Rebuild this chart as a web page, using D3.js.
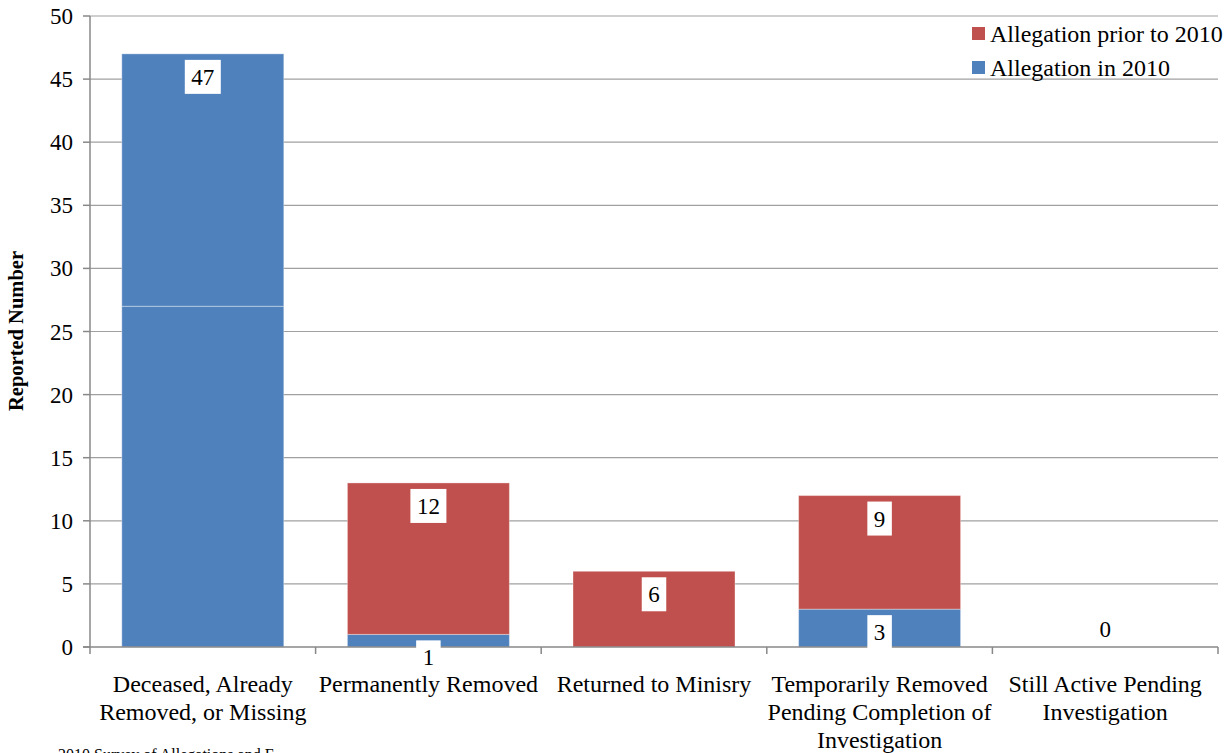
<!DOCTYPE html>
<html><head><meta charset="utf-8">
<script src="https://cdn.jsdelivr.net/npm/d3@7/dist/d3.min.js"></script>
<style>body{margin:0;background:#fff}svg{display:block}</style>
</head><body><svg id="c" width="1228" height="753"></svg>
<script>
const categories = [["Deceased, Already","Removed, or Missing"],["Permanently Removed"],["Returned to Minisry"],["Temporarily Removed","Pending Completion of","Investigation"],["Still Active Pending","Investigation"]];
const in2010 = [27, 1, 0, 3, 0];
const prior = [20, 12, 6, 9, 0];
const priorLabels = ["47", "12", "6", "9", ""];
const in2010Labels = ["", "1", "", "3", "0"];
const seriesNames = ["Allegation prior to 2010", "Allegation in 2010"];
const yTicks = [0,5,10,15,20,25,30,35,40,45,50];

const FONT = '"Liberation Serif", "Times New Roman", serif';
const blue = "#4F81BD", red = "#C0504D";
const svg = d3.select("#c");
const m = {l:90, r:1218, t:16, b:647};
const x = d3.scaleBand().domain(d3.range(categories.length)).range([m.l, m.r]).paddingInner(0.282).paddingOuter(0.141);
const y = d3.scaleLinear().domain([0,50]).range([m.b, m.t]);

// gridlines
svg.append("g").selectAll("line").data(yTicks.filter(d=>d>0)).join("line")
  .attr("x1", m.l).attr("x2", m.r).attr("y1", d=>y(d)).attr("y2", d=>y(d))
  .attr("stroke", "#a0a0a0").attr("stroke-width", 1.2);

// bars
const g = svg.append("g");
categories.forEach((c,i)=>{
  const bx = x(i), bw = x.bandwidth();
  if (in2010[i] > 0) g.append("rect").attr("x", bx).attr("width", bw)
    .attr("y", y(in2010[i])).attr("height", y(0)-y(in2010[i]))
    .attr("fill", blue).attr("stroke","rgba(255,255,255,0.35)").attr("stroke-width",1);
  if (prior[i] > 0) g.append("rect").attr("x", bx).attr("width", bw)
    .attr("y", y(in2010[i]+prior[i])).attr("height", y(in2010[i])-y(in2010[i]+prior[i]))
    .attr("fill", i===0 ? blue : red).attr("stroke","rgba(255,255,255,0.35)").attr("stroke-width",1);
});

// axes
svg.append("line").attr("x1", m.l).attr("x2", m.l).attr("y1", m.t).attr("y2", m.b).attr("stroke","#888").attr("stroke-width",1.5);
svg.append("line").attr("x1", m.l-7).attr("x2", m.r).attr("y1", m.b).attr("y2", m.b).attr("stroke","#888").attr("stroke-width",1.5);
svg.append("g").selectAll("line").data(yTicks).join("line")
  .attr("x1", m.l-7).attr("x2", m.l).attr("y1", d=>y(d)).attr("y2", d=>y(d)).attr("stroke","#888").attr("stroke-width",1.5);
svg.append("g").selectAll("text").data(yTicks).join("text")
  .attr("x", 73).attr("y", d=>y(d)+8).attr("text-anchor","end").attr("font-size",23).text(d=>d);
const step = x.step();
svg.append("g").selectAll("line").data(d3.range(categories.length+1)).join("line")
  .attr("x1", d=>m.l + d*step).attr("x2", d=>m.l + d*step).attr("y1", m.b).attr("y2", m.b+7)
  .attr("stroke","#888").attr("stroke-width",1.5);

// labels
function label(i, top, txt, isZero){
  if (!txt) return;
  const cx = x(i) + x.bandwidth()/2;
  const w = txt.length*11.5 + 13, h = 34;
  const ty = isZero ? y(top) - h - 1 : y(top) + 6;
  if (!isZero) svg.append("rect").attr("x", cx - w/2).attr("y", ty).attr("width", w).attr("height", h).attr("fill", "#fff");
  svg.append("text").attr("x", cx).attr("y", ty + h/2 + 8).attr("text-anchor","middle")
    .attr("font-size", 23).attr("fill","#000").text(txt);
}
categories.forEach((c,i)=>{
  label(i, in2010[i]+prior[i], priorLabels[i], false);
  label(i, in2010[i], in2010Labels[i], in2010[i]===0);
});

// category labels
categories.forEach((lines,i)=>{
  const cx = x(i) + x.bandwidth()/2;
  const t = svg.append("text").attr("text-anchor","middle").attr("font-size",24);
  lines.forEach((l,k)=> t.append("tspan").attr("x", cx).attr("y", 692 + k*28).text(l));
});

// y-axis title
svg.append("text").attr("transform","translate(23,331) rotate(-90)").attr("text-anchor","middle")
  .attr("font-size",20.5).attr("font-weight","bold").text("Reported Number");

// legend
[[red, seriesNames[0]], [blue, seriesNames[1]]].forEach((d,k)=>{
  svg.append("rect").attr("x", 972).attr("y", 27 + k*34).attr("width", 13).attr("height", 13).attr("fill", d[0]);
  svg.append("text").attr("x", 990).attr("y", 42 + k*34).attr("font-size", 24).text(d[1]);
});

// source line, mostly cut off by the bottom edge as in the reference
svg.append("text").attr("x", 58).attr("y", 760).attr("font-size", 16).text("2010 Survey of Allegations and F");

svg.selectAll("text, tspan").style("font-family", FONT);
</script></body></html>
